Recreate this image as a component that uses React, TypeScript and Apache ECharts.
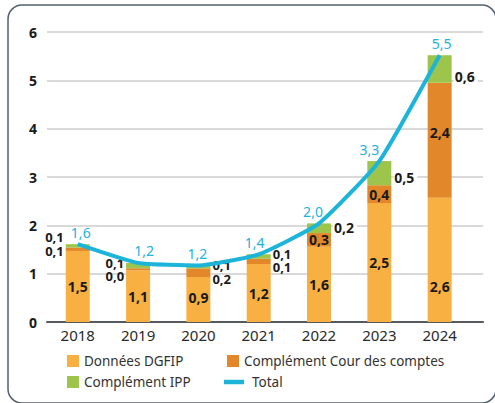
import React, { useEffect, useRef } from "react";
import * as echarts from "echarts";

const years = ["2018", "2019", "2020", "2021", "2022", "2023", "2024"];
const dgfip = [1.47, 1.07, 0.93, 1.2, 1.56, 2.46, 2.57];
const cour = [0.07, 0.04, 0.18, 0.11, 0.28, 0.37, 2.38];
const ipp = [0.07, 0.11, 0.06, 0.09, 0.2, 0.5, 0.57];
const total = [1.61, 1.22, 1.17, 1.4, 2.04, 3.33, 5.52];
const yTicks = [0, 1, 2, 3, 4, 5, 6];

const FONT = "Noto Sans";
const C_DGFIP = "#F8B043";
const C_COUR = "#E2872A";
const C_IPP = "#9DC44B";
const C_TOTAL = "#1DB4DA";

const fmt = (v: number) => v.toFixed(1).replace(".", ",");

// label placement styles (kept apart from values)
const dgfipLabelOffsets = [[0, 0], [0, 0], [0, -2], [0, 0], [0, 0], [0, 0], [0, 27]];
const courLabelPos = ["left", "left", "right", "right", "inside", "inside", "inside"];
const courLabelOffsets = [[0, 1.5], [0, 7], [0, 6.5], [0, 6], [0, 0], [0, 0], [0, -8]];
const courLabelSize = [13, 13, 13, 13, 14, 14, 14];
const ippLabelPos = ["left", "left", "right", "right", "right", "right", "right"];
const ippLabelOffsets = [[0, -9], [0, -3], [0, -2], [0, -3], [0, -1], [0, 4], [0, 8]];
const ippLabelSize = [13, 13, 13, 13, 14, 14, 14];
const ippLabelBg = [false, false, false, false, true, true, true];
const totalLabelOffsets = [[3, 0], [6, 0], [-1, 0], [-4, 0], [-6, 0], [-10, 0], [2, 0]];

const baseLabel = {
  show: true,
  fontFamily: FONT,
  fontSize: 14,
  fontWeight: "bold" as const,
  color: "#1a1a1a",
};

export default function App() {
  const ref = useRef<HTMLDivElement>(null);
  useEffect(() => {
    if (!ref.current) return;
    const chart = echarts.init(ref.current, null, { renderer: "svg" });
    const option: any = {
      animation: false,
      backgroundColor: "#ffffff",
      textStyle: { fontFamily: FONT },
      graphic: [
        {
          type: "rect",
          shape: { x: 8, y: 5, width: 488, height: 398, r: 14 },
          style: { fill: "none", stroke: "#556070", lineWidth: 1.5 },
          silent: true,
          z: -1,
        },
      ],
      grid: [
        { left: 47, right: 12, top: 32, bottom: 81 },
        { left: 47.6, right: 25.2, top: 32, bottom: 81 },
      ],
      xAxis: [
        {
          type: "value",
          gridIndex: 0,
          min: 0,
          max: 1,
          axisLine: { show: true, onZero: false, lineStyle: { color: "#555a60", width: 2 } },
          axisTick: { show: false },
          axisLabel: { show: false },
          splitLine: { show: false },
        },
        {
          type: "category",
          gridIndex: 1,
          data: years,
          axisLine: { show: false },
          axisTick: { show: false },
          axisLabel: { color: "#2a2a2a", fontSize: 15, fontFamily: FONT, margin: 5 },
        },
      ],
      yAxis: [
        {
          type: "value",
          gridIndex: 0,
          min: yTicks[0],
          max: yTicks[yTicks.length - 1],
          interval: 1,
          axisLine: { show: false },
          axisTick: { show: false },
          axisLabel: {
            color: "#1a1a1a",
            fontSize: 14,
            fontWeight: "bold",
            fontFamily: FONT,
            margin: 10,
          },
          splitLine: { lineStyle: { color: "#cccccc", width: 1.5 } },
        },
        {
          type: "value",
          gridIndex: 1,
          min: 0,
          max: 6,
          interval: 1,
          show: false,
          splitLine: { show: false },
        },
      ],
      legend: [
        {
          left: 67,
          top: 354,
          padding: 0,
          itemWidth: 12,
          itemHeight: 12,
          icon: "rect",
          data: ["Données DGFIP"],
          textStyle: { fontSize: 13.5, color: "#333", fontFamily: FONT },
        },
        {
          left: 227,
          top: 354,
          padding: 0,
          itemWidth: 12,
          itemHeight: 12,
          icon: "rect",
          data: ["Complément Cour des comptes"],
          textStyle: { fontSize: 13.5, color: "#333", fontFamily: FONT },
        },
        {
          left: 67,
          top: 375,
          padding: 0,
          itemWidth: 12,
          itemHeight: 12,
          icon: "rect",
          data: ["Complément IPP"],
          textStyle: { fontSize: 13.5, color: "#333", fontFamily: FONT },
        },
        {
          left: 224,
          top: 375,
          padding: 0,
          itemWidth: 20,
          itemHeight: 12,
          icon: "path://M0,0H20V4.5H0Z",
          data: ["Total"],
          textStyle: { fontSize: 13.5, color: "#333", fontFamily: FONT, padding: [0, 0, 0, 3] },
        },
      ],
      series: [
        {
          name: "Données DGFIP",
          type: "bar",
          stack: "s",
          xAxisIndex: 1,
          yAxisIndex: 1,
          barWidth: 24,
          itemStyle: { color: C_DGFIP },
          data: dgfip.map((v, i) => ({
            value: v,
            label: { ...baseLabel, position: "inside", offset: dgfipLabelOffsets[i], formatter: () => fmt(v) },
          })),
        },
        {
          name: "Complément Cour des comptes",
          type: "bar",
          stack: "s",
          xAxisIndex: 1,
          yAxisIndex: 1,
          barWidth: 24,
          itemStyle: { color: C_COUR },
          data: cour.map((v, i) => ({
            value: v,
            label: {
              ...baseLabel,
              fontSize: courLabelSize[i],
              position: courLabelPos[i],
              distance: 2,
              offset: courLabelOffsets[i],
              formatter: () => fmt(v),
            },
          })),
        },
        {
          name: "Complément IPP",
          type: "bar",
          stack: "s",
          xAxisIndex: 1,
          yAxisIndex: 1,
          barWidth: 24,
          itemStyle: { color: C_IPP },
          data: ipp.map((v, i) => ({
            value: v,
            label: {
              ...baseLabel,
              fontSize: ippLabelSize[i],
              position: ippLabelPos[i],
              distance: 2,
              offset: ippLabelOffsets[i],
              backgroundColor: ippLabelBg[i] ? "#ffffff" : "transparent",
              padding: ippLabelBg[i] ? [0, 3, 0, 1] : 0,
              formatter: () => fmt(v),
            },
          })),
        },
        {
          name: "Total",
          type: "line",
          xAxisIndex: 1,
          yAxisIndex: 1,
          z: 10,
          smooth: 0.15,
          symbol: "circle",
          symbolSize: 0.1,
          showSymbol: true,
          lineStyle: { color: C_TOTAL, width: 4 },
          itemStyle: { color: C_TOTAL },
          data: total.map((v, i) => ({
            value: v,
            label: {
              show: true,
              position: "top",
              distance: 5,
              offset: totalLabelOffsets[i],
              color: "#22B2E0",
              fontSize: 14,
              fontFamily: FONT,
              formatter: () => fmt(v),
            },
          })),
        },
      ],
    };
    chart.setOption(option);
    return () => chart.dispose();
  }, []);
  return <div ref={ref} style={{ width: 495, height: 403, position: "absolute", left: 0, top: 0 }} />;
}
